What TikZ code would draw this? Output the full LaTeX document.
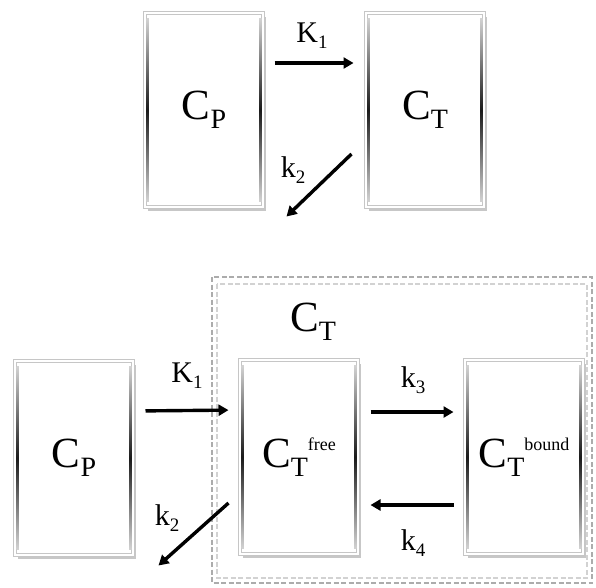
\documentclass[tikz,border=0pt]{standalone}
\usepackage{fontspec}
\setmainfont{Liberation Serif}
\usetikzlibrary{arrows.meta,shadows}
\newcommand{\bigC}[1]{\raisebox{-5pt}{\fontsize{43}{43}\selectfont C\raisebox{-9pt}{\fontsize{28}{28}\selectfont #1}}}
\newcommand{\bigCsup}[1]{\raisebox{-4pt}{\fontsize{43}{43}\selectfont C\raisebox{-9pt}{\fontsize{28}{28}\selectfont T}\raisebox{17pt}{\fontsize{18}{18}\selectfont #1}}}
\newcommand{\rate}[2]{{\fontsize{30}{30}\selectfont #1\raisebox{-6pt}{\fontsize{19}{19}\selectfont #2}}}
\tikzset{
  comp/.style={draw=gray!45, line width=1pt, double=white, double distance=2.2pt,
    fill=white, minimum width=118pt, minimum height=194pt, inner sep=0pt,
    drop shadow={shadow xshift=3pt, shadow yshift=-4pt, fill=gray!55, opacity=0.8}},
  flow/.style={line width=3.4pt, -{Triangle[length=10pt,width=11pt]}},
  edge/.style={top color=gray!35, bottom color=gray!35, middle color=black!90, draw=none},
  lbl/.style={inner sep=0pt}
}
\begin{document}
\begin{tikzpicture}[x=1pt,y=-1pt]
\useasboundingbox[fill=white] (0,0) rectangle (596,587);
% top
\node[comp] (cp1) at (204,110) {\bigC{P}};
\node[comp] (ct1) at (425,110) {\bigC{T}};
% bottom dashed compartment
\draw[gray!65, line width=1.4pt, dash pattern=on 5pt off 2.5pt] (212,277) rectangle (592,583);
\draw[gray!35, line width=1.7pt, dash pattern=on 5pt off 2.5pt] (217,284) rectangle (587,578);
\node[lbl] (ctlab) at (313,322) {\bigC{T}};
% bottom boxes
\node[comp] (cp2) at (74,458) {\bigC{P}};
\node[comp] (free) at (299,457) {\bigCsup{free}};
\node[comp] (bound) at (524,457) {\bigCsup{bound}};
% dark side edges
\foreach \b in {cp1,ct1,cp2,free,bound}{
  \shade[edge] ([xshift=2pt,yshift=-6pt]\b.north west) rectangle ([xshift=4.4pt,yshift=6pt]\b.south west);
  \shade[edge] ([xshift=-4.4pt,yshift=-6pt]\b.north east) rectangle ([xshift=-2pt,yshift=6pt]\b.south east);
}
% connector end points
\coordinate (e1) at ([xshift=23pt,yshift=-9pt]cp1.south east);
\coordinate (e2) at ([xshift=25pt,yshift=-10pt]cp2.south east);
% top arrows
\draw[flow, shorten <=11pt, shorten >=12pt] ([yshift=47pt]cp1.east) -- ([yshift=47pt]ct1.west);
\draw[flow] ([xshift=-14pt,yshift=-44pt]ct1.west) -- (e1);
\node[lbl] (k1a) at (312,36) {\rate{K}{1}};
\node[lbl] (k2a) at (293,170) {\rate{k}{2}};
% bottom arrows
\draw[flow, shorten <=12pt, shorten >=11pt] ([yshift=47pt]cp2.east) -- ([yshift=47pt]free.west);
\draw[flow] ([xshift=-11pt,yshift=-46pt]free.west) -- (e2);
\draw[flow, shorten <=12pt, shorten >=11pt] ([yshift=45pt]free.east) -- ([yshift=45pt]bound.west);
\draw[flow, shorten <=11pt, shorten >=12pt] ([yshift=-48pt]bound.west) -- ([yshift=-48pt]free.east);
\node[lbl] (k1b) at (187,376) {\rate{K}{1}};
\node[lbl] (k2b) at (167,518) {\rate{k}{2}};
\node[lbl] (k3) at (413,380) {\rate{k}{3}};
\node[lbl] (k4) at (413,543) {\rate{k}{4}};
\end{tikzpicture}
\end{document}
